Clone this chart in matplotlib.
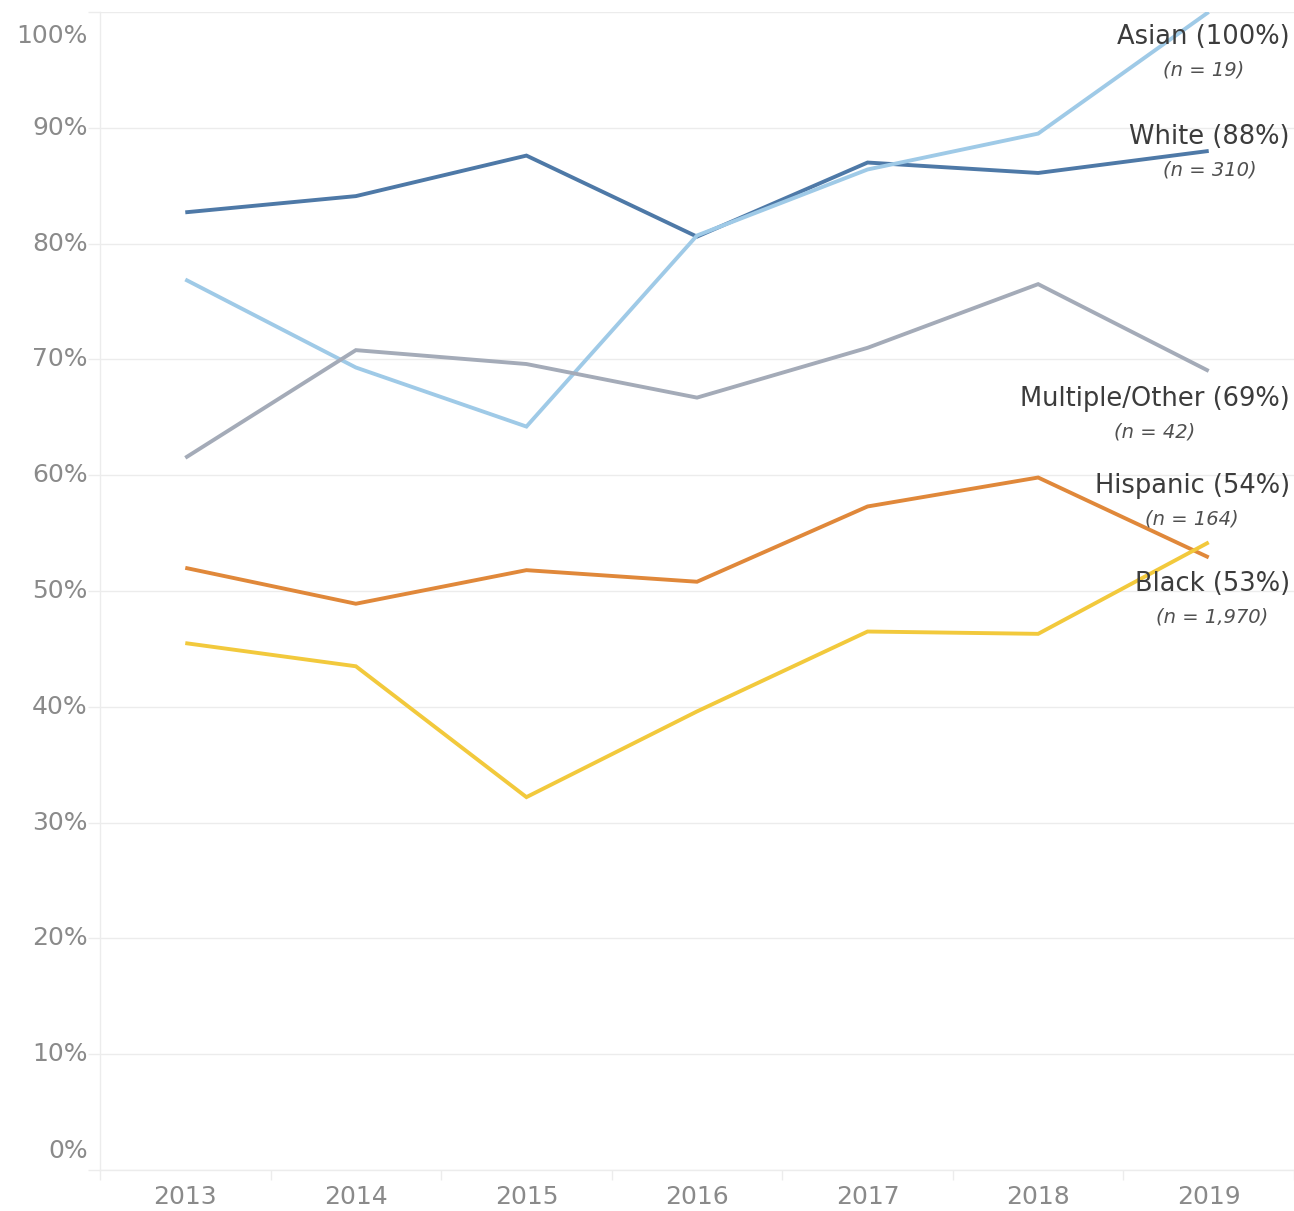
import matplotlib
matplotlib.use("Agg")
import matplotlib.pyplot as plt
from matplotlib.transforms import blended_transform_factory

years = [2013, 2014, 2015, 2016, 2017, 2018, 2019]
white = [82.7, 84.1, 87.6, 80.6, 87.0, 86.1, 88.0]
asian = [76.9, 69.3, 64.2, 80.7, 86.4, 89.5, 100.0]
multiple = [61.5, 70.8, 69.6, 66.7, 71.0, 76.5, 69.0]
black = [52.0, 48.9, 51.8, 50.8, 57.3, 59.8, 52.9]
hispanic = [45.5, 43.5, 32.2, 39.6, 46.5, 46.3, 54.2]

series_names = ["White", "Asian", "Multiple/Other", "Black", "Hispanic"]
series_values = [white, asian, multiple, black, hispanic]
series_colors = ["#4e79a7", "#9fcae7", "#a4abb8", "#e0883a", "#f2c93c"]

label_texts = ["Asian (100%)", "White (88%)", "Multiple/Other (69%)", "Hispanic (54%)", "Black (53%)"]
n_texts = ["(n = 19)", "(n = 310)", "(n = 42)", "(n = 164)", "(n = 1,970)"]
label_y = [97.8, 89.2, 66.6, 59.1, 50.6]

y_ticks = [0, 10, 20, 30, 40, 50, 60, 70, 80, 90, 100]
y_ticklabels = ["0%", "10%", "20%", "30%", "40%", "50%", "60%", "70%", "80%", "90%", "100%"]

W, H = 1294, 1211
fig = plt.figure(figsize=(W / 100, H / 100), dpi=100)
ax = fig.add_axes([100 / W, 1 - 1170 / H, 1194 / W, (1170 - 12) / H])

font = "DejaVu Sans"
tick_color = "#8a8a8a"
grid_color = "#ececec"

for vals, col in zip(series_values, series_colors):
    ax.plot(years, vals, color=col, lw=2.8, solid_capstyle="butt", solid_joinstyle="miter", zorder=3)

ax.set_xlim(2012.5, 2019.5)
ax.set_ylim(0, 100)

for s in ["top", "right"]:
    ax.spines[s].set_visible(False)
ax.spines["left"].set_color(grid_color)
ax.spines["bottom"].set_color(grid_color)
ax.spines["left"].set_linewidth(1)
ax.spines["bottom"].set_linewidth(1)

# y gridlines
ax.set_yticks(y_ticks)
ax.set_yticklabels([])
ax.tick_params(axis="y", length=9, color=grid_color, width=1)
ax.yaxis.grid(True, color=grid_color, lw=1)
ax.set_axisbelow(True)

# y labels with Tableau-like shifts at the ends
trans_y = blended_transform_factory(ax.transAxes, ax.transData)
for v, t in zip(y_ticks, y_ticklabels):
    dy = 0
    if v == 100:
        dy = -17
    elif v == 0:
        dy = 14
    ax.annotate(t, xy=(0, v), xycoords=trans_y, xytext=(-9, dy), textcoords="offset points",
                ha="right", va="center", fontsize=18, color=tick_color, family=font)

# x ticks: labels at years, marks at boundaries
ax.set_xticks(years)
ax.set_xticklabels([str(y) for y in years], fontsize=18, color=tick_color, family=font)
ax.tick_params(axis="x", length=0, pad=11)
ax.set_xticks([y + 0.5 for y in [2012] + years], minor=True)
ax.tick_params(axis="x", which="minor", length=7, color=grid_color, width=1)

# end labels
for txt, ntxt, ly in zip(label_texts, n_texts, label_y):
    t = ax.text(0.9965, ly, txt, transform=trans_y, ha="right", va="center",
                fontsize=18.5, color="#3c3c3c", family=font, zorder=4)
    ax.annotate(ntxt, xy=(0.5, 0), xycoords=t, xytext=(0, -7.5), textcoords="offset points",
                ha="center", va="top", fontsize=14, style="italic", color="#505050",
                family=font, zorder=4)

fig.savefig("out.png", dpi=100, facecolor="white")
